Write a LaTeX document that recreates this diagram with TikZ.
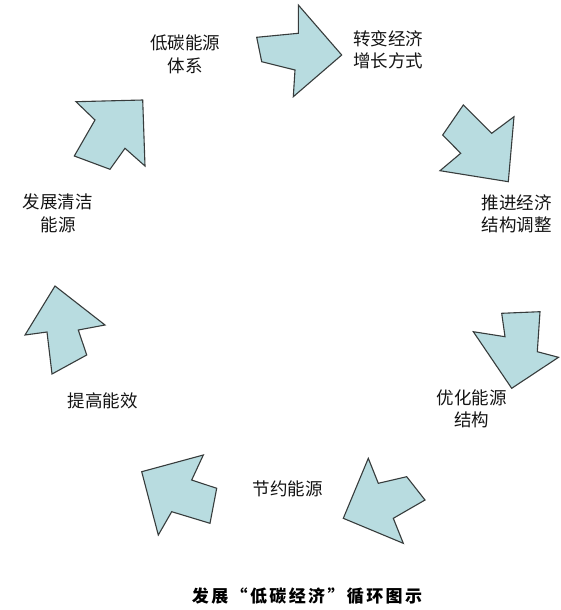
\documentclass[tikz,border=0pt]{standalone}
\usepackage{fontspec}
\newfontfamily\cjk{Noto Sans CJK SC}
\definecolor{arrowfill}{RGB}{184,220,224}
\definecolor{arrowline}{RGB}{55,60,60}
\begin{document}
\begin{tikzpicture}[x=1pt,y=-1pt,
  arrowshape/.style={fill=arrowfill, draw=arrowline, line width=1.1pt, line join=miter},
  lbl/.style={font=\cjk\fontsize{17.5}{22.5}\selectfont, align=center, inner sep=0pt, text=black!92},
  ttl/.style={font=\cjk\bfseries\fontsize{17}{20}\selectfont\addfontfeature{LetterSpace=14}, inner sep=0pt, text=black}]
\useasboundingbox[fill=white] (0,0) rectangle (560,610);
% arrows
\draw[arrowshape] (256.7,37.3) -- (298.3,33.3) -- (298.3,5) -- (341.7,55) -- (293.3,96.7) -- (295,70) -- (261.7,61.7) -- cycle;
\draw[arrowshape] (463.3,105) -- (442.7,135) -- (460.7,153.3) -- (440,170.7) -- (508.3,181.7) -- (514,116.7) -- (491.7,133.3) -- cycle;
\draw[arrowshape] (501.7,313.3) -- (540,311.7) -- (537.3,351.7) -- (558.5,357.3) -- (511.7,388.3) -- (473.3,331.7) -- (505,336.7) -- cycle;
\draw[arrowshape] (368.3,458.3) -- (378.3,483.3) -- (406.7,476.7) -- (425,500) -- (393.3,518.3) -- (403.3,543.3) -- (343.3,518.3) -- cycle;
\draw[arrowshape] (141.7,471.7) -- (203.3,455) -- (191.7,480) -- (216.7,488.3) -- (210,523.3) -- (171.7,511.7) -- (158.3,535) -- cycle;
\draw[arrowshape] (55,286) -- (105,325) -- (78.3,330) -- (86.7,355) -- (52,374) -- (47,332) -- (25,335) -- cycle;
\draw[arrowshape] (76,101.7) -- (142.7,100) -- (145,166) -- (125,148.3) -- (110,169.3) -- (74.3,156) -- (95,120) -- cycle;
% labels
\node[lbl] (lowcarbon) at (185,54.5) {低碳能源\\体系};
\node[lbl] (growth) at (388,50) {转变经济\\增长方式};
\node[lbl] (structure) at (516.7,214) {推进经济\\结构调整};
\node[lbl] (energystruct) at (471.7,409) {优化能源\\结构};
\node[lbl] (saving) at (287.5,489) {节约能源};
\node[lbl] (efficiency) at (102.5,401) {提高能效};
\node[lbl] (clean) at (58,213.5) {发展清洁\\能源};
\node[ttl] (title) at (307,596) {发展“低碳经济”循环图示};
\end{tikzpicture}
\end{document}
